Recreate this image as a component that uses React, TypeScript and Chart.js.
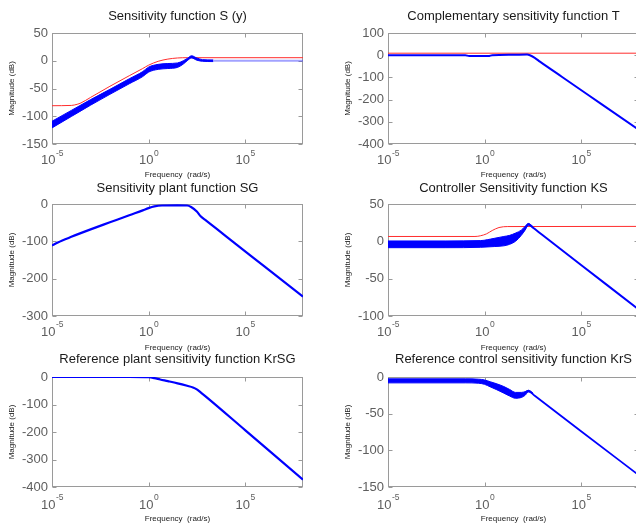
import React, { useEffect, useRef } from 'react';
import { Chart, registerables } from 'chart.js';

Chart.register(...registerables);

const FONT = "'Liberation Sans', Arial, Helvetica, sans-serif";

// ---------- axis labels ----------
const X_MIN = 1e-5;
const X_MAX = 1e8;
const X_TICK_VALUES = [1e-5, 1, 1e5];
const X_TICK_BASE = '10';
const X_TICK_EXPONENTS = ['-5', '0', '5'];
const Y_LABEL = 'Magnitude (dB)';
const X_LABEL = 'Frequency  (rad/s)';
const TITLES = [
  'Sensitivity function S (y)',
  'Complementary sensitivity function T',
  'Sensitivity plant function SG',
  'Controller Sensitivity function KS',
  'Reference plant sensitivity function KrSG',
  'Reference control sensitivity function KrS',
];

// ---------- data: frequency (rad/s) and magnitude (dB) ----------
// 1. Sensitivity function S (y)
const S_RED_W = [1e-5, 1e-4, 2e-4, 3.16e-4, 1e-3, 1e-2, 0.1, 0.5, 1, 3.16, 10, 31.6, 100, 1e8];
const S_RED_DB = [-81, -80.5, -78.5, -76, -66, -46, -27, -14, -8, -1, 3, 5, 5.5, 5.5];
const S_BAND_W = [1e-5, 1e-4, 1e-3, 1e-2, 0.1, 0.5, 1, 3.16, 10, 31.6, 63, 100, 170, 316, 630, 2240];
const S_BAND_LO = [-121, -100.5, -80, -60.5, -41.5, -28.5, -20.5, -15.5, -14, -12, -6, 0, 5, 1, -1, -1.5];
const S_BAND_HI = [-109, -89.5, -70, -51.5, -32.5, -19.5, -11.5, -6.5, -5, -4, 0, 4, 9, 5, 2, 1.5];
const S_TAIL_W = [2240, 1e8];
const S_TAIL_DB = [0, 0];

// 2. Complementary sensitivity function T
const T_RED_W = [1e-5, 1e8];
const T_RED_DB = [9, 9];
const T_BLUE_W = [1e-5, 0.1, 0.16, 1.6, 2.5, 30, 160, 224, 400, 740, 1e4, 1e6, 1e8];
const T_BLUE_DB = [0, 0, -4, -4, 0, 2, 3, 0, -12, -29, -97, -217, -337];

// 3. Sensitivity plant function SG
const SG_W = [1e-5, 2e-5, 1e-4, 1e-3, 1e-2, 0.1, 0.5, 1, 2, 5, 32, 100, 160, 316, 500, 1000, 1e4, 1e6, 1e8];
const SG_DB = [-111, -103, -88, -68, -49, -30, -17, -11, -6.5, -4, -3.5, -4, -8, -20, -33, -45, -86, -167, -248];

// 4. Controller Sensitivity function KS
const KS_RED_W = [1e-5, 0.32, 0.63, 1.26, 2.5, 5.6, 16, 1e8];
const KS_RED_DB = [6.5, 6.5, 7.5, 10, 14.5, 18.5, 19.8, 20];
const KS_BAND_W = [1e-5, 1e-2, 0.63, 3.16, 10, 20, 40, 80, 126, 186, 316];
const KS_BAND_LO = [-8.5, -8.5, -8, -7, -6, -4, 0, 8, 15, 21.5, 18];
const KS_BAND_HI = [0.5, 0.5, 1, 4, 6.5, 8, 11, 15, 20, 24, 20];
const KS_LINE_W = [1e-5, 0.63, 3.16, 10, 20, 40, 80, 126, 186, 316, 1000, 1e5, 1e8];
const KS_LINE_DB = [-4, -3.5, -1.5, 0, 2, 5.5, 11.5, 17.5, 23, 18.5, 8.4, -31.6, -91.6];

// 5. Reference plant sensitivity function KrSG
const KRSG_W = [1e-5, 0.1, 1, 2, 4, 10, 32, 100, 200, 316, 500, 1000, 1e5, 1e8];
const KRSG_DB = [0, 0, -1, -4, -9, -15, -23, -32, -38, -45, -56, -73, -193, -373];

// 6. Reference control sensitivity function KrS
const KRS_BAND_W = [1e-5, 0.1, 0.5, 1, 2, 4, 10, 20, 40, 80, 126, 186, 316];
const KRS_BAND_LO = [-8, -8, -8.5, -10, -13.5, -17, -22, -26, -29, -28, -25, -20.5, -23];
const KRS_BAND_HI = [-2.5, -2.5, -3, -4, -6.5, -9, -13, -17, -21, -21, -20, -18, -21.5];
const KRS_LINE_W = [1e-5, 0.32, 1, 2, 4, 10, 20, 40, 63, 100, 186, 400, 1e5, 1e8];
const KRS_LINE_DB = [-5, -5.2, -7, -10, -13, -17.5, -21.5, -25, -25.5, -23.5, -19, -25.6, -74, -134];

// ---------- styles ----------
const BLUE = 'rgb(0,0,255)';
const PALE_BLUE = 'rgba(70,70,255,0.5)';
const RED = 'rgb(255,45,45)';
const TICK_COLOR = '#5e5e5e';
const FRAME_COLOR = '#9a9a9a';
const TEXT_COLOR = '#1a1a1a';
const TITLE_SIZE = 13;
const TICK_SIZE = 13;
const EXP_SIZE = 8.5;
const AXIS_TITLE_SIZE = 8;
const Y_TITLE_SIZE = 8;
const TICK_LEN = 4;

const ROWS = [
  { top: 0, titleY: 16, plotTop: 33, plotBottom: 144, tickY: 160.5, freqY: 175, bottom: 182 },
  { top: 176, titleY: 188, plotTop: 204, plotBottom: 316, tickY: 332, freqY: 348, bottom: 355 },
  { top: 348, titleY: 359, plotTop: 377, plotBottom: 487, tickY: 505, freqY: 519, bottom: 527 },
];
const COLS = [
  { left: 0, width: 318, plotLeft: 52, plotRight: 303, yTitleX: 12 },
  { left: 318, width: 330, plotLeft: 388, plotRight: 639, yTitleX: 348 },
];

function toPoints(w: number[], db: number[]) {
  return w.map((x, i) => ({ x, y: db[i] }));
}

function line(w: number[], db: number[], color: string, width: number): any {
  return {
    data: toPoints(w, db),
    borderColor: color,
    borderWidth: width,
    pointRadius: 0,
    fill: false,
    cubicInterpolationMode: 'monotone',
  };
}

function band(w: number[], lo: number[], hi: number[]): any[] {
  return [
    line(w, lo, BLUE, 1),
    { ...line(w, hi, BLUE, 1), fill: '-1', backgroundColor: BLUE },
  ];
}

const PANELS: any[] = [
  {
    title: TITLES[0], row: 0, col: 0, yMin: -150, yMax: 50, yStep: 50,
    datasets: () => [
      ...band(S_BAND_W, S_BAND_LO, S_BAND_HI),
      line(S_TAIL_W, S_TAIL_DB, PALE_BLUE, 2),
      line(S_RED_W, S_RED_DB, RED, 1),
    ],
  },
  {
    title: TITLES[1], row: 0, col: 1, yMin: -400, yMax: 100, yStep: 100,
    datasets: () => [
      line(T_BLUE_W, T_BLUE_DB, BLUE, 2),
      line(T_RED_W, T_RED_DB, RED, 1),
    ],
  },
  {
    title: TITLES[2], row: 1, col: 0, yMin: -300, yMax: 0, yStep: 100,
    datasets: () => [line(SG_W, SG_DB, BLUE, 2.2)],
  },
  {
    title: TITLES[3], row: 1, col: 1, yMin: -100, yMax: 50, yStep: 50,
    datasets: () => [
      line(KS_LINE_W, KS_LINE_DB, BLUE, 2),
      ...band(KS_BAND_W, KS_BAND_LO, KS_BAND_HI),
      line(KS_RED_W, KS_RED_DB, RED, 1),
    ],
  },
  {
    title: TITLES[4], row: 2, col: 0, yMin: -400, yMax: 0, yStep: 100,
    datasets: () => [line(KRSG_W, KRSG_DB, BLUE, 2.2)],
  },
  {
    title: TITLES[5], row: 2, col: 1, yMin: -150, yMax: 0, yStep: 50,
    datasets: () => [
      line(KRS_LINE_W, KRS_LINE_DB, BLUE, 1.8),
      ...band(KRS_BAND_W, KRS_BAND_LO, KRS_BAND_HI),
    ],
  },
];

function framePlugin(row: any): any {
  const edges = (a: any) => ({
    L: Math.round(a.left) + 0.5,
    R: Math.round(a.right) - 0.5,
    T: Math.round(a.top) + 0.5,
    B: Math.round(a.bottom) - 0.5,
  });
  return {
    id: 'frameTicks',
    beforeDatasetsDraw(chart: any) {
      const { ctx, chartArea: a, scales } = chart;
      const xs = scales.x;
      const ys = scales.y;
      const { L, R, T, B } = edges(a);
      ctx.save();
      ctx.strokeStyle = FRAME_COLOR;
      ctx.lineWidth = 1;
      ctx.strokeRect(L, T, R - L, B - T);
      ctx.beginPath();
      for (const v of X_TICK_VALUES) {
        const px = Math.round(xs.getPixelForValue(v)) + 0.5;
        ctx.moveTo(px, B);
        ctx.lineTo(px, B - TICK_LEN);
        ctx.moveTo(px, T);
        ctx.lineTo(px, T + TICK_LEN);
      }
      for (const t of ys.ticks) {
        const py = Math.round(ys.getPixelForValue(t.value)) + 0.5;
        ctx.moveTo(L, py);
        ctx.lineTo(L + TICK_LEN, py);
        ctx.moveTo(R, py);
        ctx.lineTo(R - TICK_LEN, py);
      }
      ctx.stroke();
      ctx.restore();
    },
    afterDraw(chart: any) {
      const { ctx, scales } = chart;
      const xs = scales.x;
      // x tick labels: 10 with superscript exponent
      const y0 = row.tickY - row.top;
      ctx.save();
      ctx.fillStyle = TICK_COLOR;
      ctx.textAlign = 'left';
      ctx.textBaseline = 'middle';
      X_TICK_VALUES.forEach((v, i) => {
        const px = xs.getPixelForValue(v);
        ctx.font = `${TICK_SIZE}px ${FONT}`;
        const bw = ctx.measureText(X_TICK_BASE).width;
        ctx.font = `${EXP_SIZE}px ${FONT}`;
        const ew = ctx.measureText(X_TICK_EXPONENTS[i]).width;
        const x0 = px - (bw + ew) / 2;
        ctx.font = `${TICK_SIZE}px ${FONT}`;
        ctx.fillText(X_TICK_BASE, x0, y0);
        ctx.font = `${EXP_SIZE}px ${FONT}`;
        ctx.fillText(X_TICK_EXPONENTS[i], x0 + bw + 0.5, y0 - 7);
      });
      ctx.restore();
    },
  };
}

function makeConfig(p: any): any {
  const row = ROWS[p.row];
  const col = COLS[p.col];
  const titleLH = TITLE_SIZE * 1.2;
  const titlePadTop = row.titleY - row.top - titleLH / 2;
  const titlePadBottom = row.plotTop - row.top - titlePadTop - titleLH;
  const yAxisWidth = col.plotLeft - col.left;
  const xAxisHeight = row.bottom - row.plotBottom;
  const xTitleLH = AXIS_TITLE_SIZE * 1.2;
  const yTitleLH = Y_TITLE_SIZE * 1.2;
  return {
    type: 'line',
    data: { datasets: p.datasets() },
    options: {
      responsive: false,
      animation: false,
      events: [],
      layout: { padding: { left: 0, top: 0, right: col.left + col.width - col.plotRight, bottom: 0 } },
      plugins: {
        legend: { display: false },
        tooltip: { enabled: false },
        title: {
          display: true,
          text: p.title,
          fullSize: false,
          color: TEXT_COLOR,
          font: { family: FONT, size: TITLE_SIZE, weight: 'normal', lineHeight: 1.2 },
          padding: { top: titlePadTop, bottom: titlePadBottom },
        },
      },
      scales: {
        x: {
          type: 'logarithmic',
          min: X_MIN,
          max: X_MAX,
          grid: { display: false, drawTicks: false },
          border: { display: false },
          ticks: { display: false },
          afterFit: (s: any) => { s.height = xAxisHeight; },
          title: {
            display: true,
            text: X_LABEL,
            color: TEXT_COLOR,
            font: { family: FONT, size: AXIS_TITLE_SIZE, lineHeight: 1.2 },
            padding: { top: 0, bottom: row.bottom - row.freqY - xTitleLH / 2 },
          },
        },
        y: {
          type: 'linear',
          min: p.yMin,
          max: p.yMax,
          grid: { display: false, drawTicks: false },
          border: { display: false },
          ticks: {
            stepSize: p.yStep,
            padding: 4,
            color: TICK_COLOR,
            font: { family: FONT, size: TICK_SIZE },
          },
          afterFit: (s: any) => { s.width = yAxisWidth; },
          title: {
            display: true,
            text: Y_LABEL,
            color: TEXT_COLOR,
            font: { family: FONT, size: Y_TITLE_SIZE, lineHeight: 1.2 },
            padding: { top: col.yTitleX - col.left - yTitleLH / 2, bottom: 0 },
          },
        },
      },
    },
    plugins: [framePlugin(row)],
  };
}

function Panel({ p }: { p: any }) {
  const ref = useRef<HTMLCanvasElement | null>(null);
  useEffect(() => {
    const chart = new Chart(ref.current as HTMLCanvasElement, makeConfig(p));
    return () => chart.destroy();
  }, [p]);
  const row = ROWS[p.row];
  const col = COLS[p.col];
  const h = row.bottom - row.top;
  return (
    <canvas
      ref={ref}
      width={col.width}
      height={h}
      style={{ position: 'absolute', left: col.left, top: row.top, width: col.width, height: h }}
    />
  );
}

export default function App() {
  return (
    <div
      style={{
        position: 'absolute',
        left: 0,
        top: 0,
        width: 636,
        height: 527,
        overflow: 'hidden',
        background: '#ffffff',
      }}
    >
      {PANELS.map((p, i) => (
        <Panel key={i} p={p} />
      ))}
    </div>
  );
}
